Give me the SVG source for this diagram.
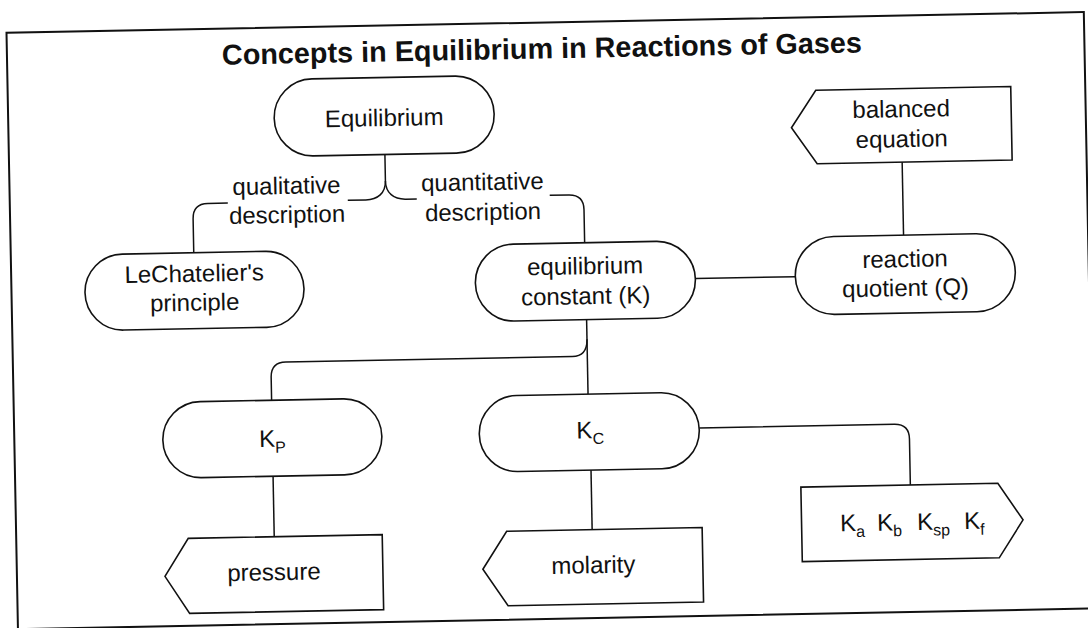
<svg xmlns="http://www.w3.org/2000/svg" width="1088" height="628" viewBox="0 0 1088 628">
<style>
.n{fill:#fff;stroke:#111;stroke-width:1.6}
.c{fill:none;stroke:#111;stroke-width:1.5}
.t{font-family:'Liberation Sans',Arial,sans-serif;font-size:24px;fill:#111;text-anchor:middle}
.k{font-family:'Liberation Sans',Arial,sans-serif;font-size:24px;fill:#111}
.s{font-size:16px}
.title{font-family:'Liberation Sans',Arial,sans-serif;font-size:28.8px;font-weight:bold;fill:#111;text-anchor:middle}
</style>
<rect width="1088" height="628" fill="#fff"/>
<g transform="rotate(-1.1 544 314)">
<rect x="12" y="22.5" width="1077.5" height="596.5" fill="none" stroke="#111" stroke-width="2"/>
<text class="title" x="547" y="58.5">Concepts in Equilibrium in Reactions of Gases</text>
<g id="connectors">
<path class="c" d="M388,151.5 V178 C388,190 380,196.5 368,196.5 H350"/>
<path class="c" d="M388,178 C388,190 396,196.5 408,196.5 H419"/>
<path class="c" d="M230,197 H210 Q195,197 195,212 V246"/>
<path class="c" d="M552,195.5 H571 Q586,195.5 586,210.5 V244"/>
<path class="c" d="M696,281.5 H796"/>
<path class="c" d="M905,169 V242"/>
<path class="c" d="M586.5,320.5 V395"/>
<path class="c" d="M586.5,340 Q586.5,357 571.5,357 H285 Q270,357 270,372 V395"/>
<path class="c" d="M270,471 V531.5"/>
<path class="c" d="M588,471 V530.5"/>
<path class="c" d="M697,431 H892 Q907,431 907,446 V492"/>
<text class="t" x="289" y="189">qualitative</text>
<text class="t" x="289" y="218">description</text>
<text class="t" x="485" y="189">quantitative</text>
<text class="t" x="485" y="219">description</text>
</g>
<g id="equilibrium">
<rect class="n" x="278" y="74.5" width="220" height="77" rx="38.5"/>
<text class="t" x="388" y="123">Equilibrium</text>
</g>
<g id="lechatelier">
<rect class="n" x="85.5" y="246" width="219" height="76" rx="38"/>
<text class="t" x="195" y="275">LeChatelier's</text>
<text class="t" x="195" y="304">principle</text>
</g>
<g id="eqconstant">
<rect class="n" x="476" y="243.5" width="220" height="77" rx="38.5"/>
<text class="t" x="586" y="275">equilibrium</text>
<text class="t" x="586" y="305">constant (K)</text>
</g>
<g id="quotient">
<rect class="n" x="796" y="242" width="220" height="78" rx="39"/>
<text class="t" x="906" y="274">reaction</text>
<text class="t" x="906" y="303">quotient (Q)</text>
</g>
<g id="balanced">
<polygon class="n" points="795,132.5 820,95.5 1015,95.5 1015,169 820,169"/>
<text class="t" x="905" y="124">balanced</text>
<text class="t" x="905" y="154">equation</text>
</g>
<g id="kp">
<rect class="n" x="160.5" y="395" width="219" height="76" rx="38"/>
<text class="t" x="270" y="441.5">K<tspan class="s" dy="6">P</tspan></text>
</g>
<g id="kc">
<rect class="n" x="477" y="395" width="220" height="76" rx="38"/>
<text class="t" x="588" y="439">K<tspan class="s" dy="6">C</tspan></text>
</g>
<g id="pressure">
<polygon class="n" points="160,569 184,531.5 378,531.5 378,606.5 184,606.5"/>
<text class="t" x="269" y="575">pressure</text>
</g>
<g id="molarity">
<polygon class="n" points="478,568 502.5,530.5 698,530.5 698,605 502.5,605"/>
<text class="t" x="588.5" y="574">molarity</text>
</g>
<g id="kothers">
<polygon class="n" points="797.5,492 994.5,492 1019,529 994.5,566.5 797.5,566.5"/>
<text class="k" x="836" y="537">K<tspan class="s" dy="6">a</tspan></text>
<text class="k" x="873" y="537">K<tspan class="s" dy="6">b</tspan></text>
<text class="k" x="913" y="537">K<tspan class="s" dy="6">sp</tspan></text>
<text class="k" x="960" y="537">K<tspan class="s" dy="6">f</tspan></text>
</g>
</g>
</svg>
